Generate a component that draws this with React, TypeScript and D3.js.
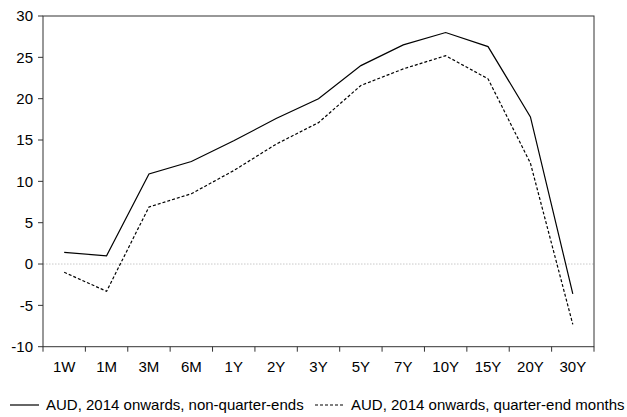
import React from "react";
import * as d3 from "d3";

const categories = ["1W", "1M", "3M", "6M", "1Y", "2Y", "3Y", "5Y", "7Y", "10Y", "15Y", "20Y", "30Y"];
const nonQuarterEnds = [1.4, 1.0, 10.9, 12.4, 14.9, 17.6, 20.0, 24.0, 26.5, 28.0, 26.3, 17.8, -3.6];
const quarterEndMonths = [-1.0, -3.3, 6.9, 8.5, 11.3, 14.5, 17.1, 21.6, 23.6, 25.2, 22.4, 12.2, -7.3];
const yTicks = [-10, -5, 0, 5, 10, 15, 20, 25, 30];
const seriesNames = ["AUD, 2014 onwards, non-quarter-ends", "AUD, 2014 onwards, quarter-end months"];

export default function App() {
  const W = 627, H = 417;
  const left = 43, right = 594, top = 16, bottom = 346.7;
  const x = d3.scaleBand().domain(categories).range([left, right]);
  const y = d3.scaleLinear().domain([-10, 30]).range([bottom, top]);
  const line = d3.line<number>()
    .x((_, i) => (x(categories[i]) as number) + x.bandwidth() / 2)
    .y((d) => y(d));
  const font = "Arial, 'Liberation Sans', sans-serif";
  const boundaries = categories.map((c) => x(c) as number).concat([right]);
  return (
    <svg width={W} height={H} style={{ position: "absolute", left: 0, top: 0 }}>
      <rect x={0} y={0} width={W} height={H} fill="#fff" />
      <line x1={left} x2={right} y1={y(0)} y2={y(0)} stroke="#bbb" strokeWidth={0.8} strokeDasharray="1.5,1.5" />
      <rect x={left} y={top} width={right - left} height={bottom - top} fill="none" stroke="#333" strokeWidth={1} />
      {yTicks.map((t) => (
        <g key={t}>
          <line x1={left - 5} x2={left} y1={y(t)} y2={y(t)} stroke="#333" />
          <text x={left - 10} y={y(t)} dy="0.35em" textAnchor="end" fontFamily={font} fontSize={15} fill="#000">{t}</text>
        </g>
      ))}
      {boundaries.map((b, i) => (
        <line key={i} x1={b} x2={b} y1={bottom} y2={bottom + 5} stroke="#333" />
      ))}
      {categories.map((c) => (
        <text key={c} x={(x(c) as number) + x.bandwidth() / 2} y={bottom + 25} textAnchor="middle" fontFamily={font} fontSize={15} fill="#000">{c}</text>
      ))}
      <path d={line(nonQuarterEnds) || ""} fill="none" stroke="#000" strokeWidth={1.2} />
      <path d={line(quarterEndMonths) || ""} fill="none" stroke="#000" strokeWidth={1.2} strokeDasharray="3,2" />
      <g fontFamily={font} fontSize={15} fill="#000">
        <line x1={10} x2={39} y1={405} y2={405} stroke="#000" strokeWidth={1.2} />
        <text x={46} y={405} dy="0.35em">{seriesNames[0]}</text>
        <line x1={315} x2={343} y1={405} y2={405} stroke="#000" strokeWidth={1.2} strokeDasharray="3,2" />
        <text x={351} y={405} dy="0.35em">{seriesNames[1]}</text>
      </g>
    </svg>
  );
}
